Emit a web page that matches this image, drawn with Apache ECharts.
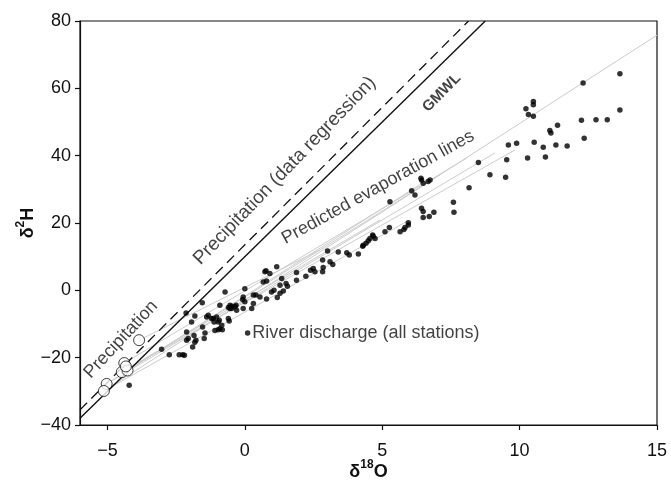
<!DOCTYPE html>
<html>
<head>
<meta charset="utf-8">
<script src="https://cdn.jsdelivr.net/npm/echarts@6/dist/echarts.min.js"></script>
<style>
html,body{margin:0;padding:0;background:#fff;}
#chart{width:671px;height:490px;}
</style>
</head>
<body>
<div id="chart"></div>
<script>
// ---- data ----
const xTicks = [-5, 0, 5, 10, 15];
const yTicks = [-40, -20, 0, 20, 40, 60, 80];

// Global Meteoric Water Line end points (δ18O, δ2H)
const gmwl = [[-6, -38], [8.75, 80]];
// Precipitation data regression line end points
const precipRegression = [[-6, -35.5], [8.14, 80]];

// Precipitation samples (open circles)
const precipitation = [
  [-3.85, -14.8], [-4.39, -21.6], [-4.48, -24.3], [-4.27, -23.8],
  [-4.33, -22.6], [-5.03, -27.8], [-5.13, -29.9]
];

// Predicted evaporation lines: [start, end]
const evaporationLines = [
  [[-5.13, -29.9], [15, 75.8]],
  [[-5.03, -27.8], [9.10, 40.8]],
  [[-4.48, -24.3], [9.83, 41.7]],
  [[-4.39, -21.6], [8.08, 39.3]],
  [[-4.27, -23.8], [7.10, 34.3]],
  [[-5.03, -27.8], [6.37, 31.4]],
  [[-3.85, -14.8], [2.73, 12.0]],
  [[-4.48, -24.3], [4.92, 20.9]],
  [[-5.13, -29.9], [5.90, 20.5]]
];

// River discharge samples (all stations)
const riverDischarge = [
  [-4.21,-28.2],[-3.03,-17.5],[-2.75,-19.1],[-2.39,-19.1],[-2.26,-19.1],[-2.20,-19.3],
  [-2.14,-6.7],[-1.82,-7.6],[-1.94,-9.4],[-2.12,-12.4],[-2.06,-14.3],[-1.85,-13.4],[-2.12,-14.8],
  [-1.90,-16.8],[-1.78,-14.8],[-1.54,-10.9],[-1.45,-12.7],[-1.48,-14.3],[-1.82,-15.4],
  [-1.55,-3.7],[-1.33,-7.4],[-1.21,-8.4],[-1.12,-9.4],[-1.03,-7.9],[-0.93,-8.9],[-0.84,-10.4],
  [-0.97,-11.7],[-0.82,-11.7],[-1.09,-11.9],[-0.60,-8.4],[-0.54,-4.4],[-0.36,-4.9],[-0.30,-5.9],
  [-0.54,-5.4],[-0.57,-9.1],[-0.72,-0.5],[-1.39,-7.9],[-1.15,-8.4],[-0.97,-9.4],[-0.91,-11.4],
  [-0.91,-4.4],[-0.60,-5.1],[-0.48,-5.4],[-0.32,-4.4],[-0.08,-2.7],[-0.06,-5.4],[0.00,0.5],
  [0.25,-5.4],[0.31,-3.9],[0.40,-1.4],[0.73,5.5],[0.67,2.5],[0.79,2.8],[1.16,7.0],[0.91,5.0],
  [0.79,-2.6],[0.97,-0.5],[1.18,-2.1],[1.28,1.5],[1.34,3.5],[1.40,-0.2],[1.50,2.0],[1.55,1.2],
  [1.88,5.3],[1.88,3.0],[2.22,4.2],[2.39,6.0],[2.49,6.5],[2.55,5.5],[2.83,9.0],[2.83,5.5],
  [2.85,6.8],[3.01,11.7],[3.10,8.5],[3.20,7.7],[3.40,11.4],[3.71,11.2],[3.80,10.5],[4.13,10.8],
  [4.29,13.1],[4.41,14.0],[4.49,14.7],[4.65,16.4],[4.74,15.4],[5.10,17.4],[5.26,18.7],[5.65,17.4],
  [5.79,18.1],[5.95,19.4],[1.06,0.0],[1.28,-0.9],[0.77,5.8],[-0.06,-2.0],[0.31,-1.4],[-0.48,-4.7],
  [0.00,-3.4],[0.55,-2.0],[5.28,26.3],[6.07,29.6],[6.19,28.3],[6.43,32.8],[6.49,31.8],[6.67,32.3],
  [6.43,24.4],[6.49,23.4],[5.95,20.1],[5.83,18.7],[4.67,16.1],[4.55,15.4],[4.31,13.4],
  [12.31,61.6],[13.65,64.3],[13.65,53.6],[10.50,56.1],[10.50,55.1],[10.23,53.9],[10.32,52.2],
  [10.50,51.7],[11.38,49.0],[11.10,47.5],[11.14,46.7],[12.25,50.5],[12.78,50.7],[13.19,50.7],
  [10.53,44.0],[10.86,42.5],[11.32,43.2],[11.73,42.9],[12.35,45.2],[10.94,39.6],[10.29,39.3],
  [9.59,43.2],[9.89,43.7],[9.53,38.8],[8.50,38.0],[8.92,34.3],[9.49,33.6],[8.16,30.5],[7.59,26.2],
  [7.61,23.2],[6.88,23.2],[6.71,21.9],[6.49,21.6],[6.74,32.8],[6.41,33.3]
];

// legend-like marker for river discharge label
const riverLabelPoint = [[0.10, -12.7]];

// ---- chart ----
const FONT = '"Liberation Sans", Arial, Helvetica, sans-serif';
const minus = v => (v < 0 ? '\u2212' + Math.abs(v) : String(v));
const chart = echarts.init(document.getElementById('chart'), null, {renderer: 'canvas'});

const evapSeries = evaporationLines.map(seg => ({
  type: 'line', data: seg, symbol: 'none', silent: true, z: 1,
  lineStyle: {color: '#cccccc', width: 1}
}));

function textPoint(text, x, y, rotate, extra) {
  return {
    type: 'scatter', symbolSize: 0, silent: true, z: 10,
    data: [[x, y]],
    label: Object.assign({
      show: true, formatter: text, position: 'inside', rotate: rotate,
      fontFamily: FONT, fontSize: 18, color: '#111'
    }, extra || {})
  };
}

const richName = {
  a: {fontFamily: FONT, fontSize: 18, fontWeight: 'bold', color: '#111', lineHeight: 22, verticalAlign: 'bottom'},
  b: {fontFamily: FONT, fontSize: 12, fontWeight: 'bold', color: '#111', lineHeight: 22, verticalAlign: 'top', padding: [0, 0, 6, 0]}
};

const option = {
  animation: false,
  backgroundColor: '#fff',
  grid: {left: 80, right: 14, top: 21, bottom: 65, outerBoundsMode: 'none', containLabel: false,
         show: true, borderColor: '#111', borderWidth: 1.2, backgroundColor: 'transparent'},
  xAxis: {
    type: 'value', min: -6, max: 15,
    axisLine: {show: true, onZero: false, lineStyle: {color: '#111', width: 1.2}},
    axisTick: {show: true, inside: false, length: 5, customValues: xTicks, lineStyle: {color: '#111', width: 1.2}},
    axisLabel: {customValues: xTicks, formatter: minus, fontFamily: FONT, fontSize: 18, color: '#111', margin: 17},
    splitLine: {show: false},
    name: '{a|δ}{b|18}{a|O}', nameLocation: 'middle', nameGap: 34, nameMoveOverlap: false,
    nameTextStyle: {rich: richName}
  },
  yAxis: {
    type: 'value', min: -40, max: 80, interval: 20,
    axisLine: {show: true, onZero: false, lineStyle: {color: '#111', width: 1.2}},
    axisTick: {show: true, inside: false, length: 5, lineStyle: {color: '#111', width: 1.2}},
    axisLabel: {formatter: minus, fontFamily: FONT, fontSize: 18, color: '#111', margin: 9},
    splitLine: {show: false},
    name: '{a|δ}{b|2}{a|H}', nameLocation: 'middle', nameGap: 43, nameRotate: 90, nameMoveOverlap: false,
    nameTextStyle: {rich: richName}
  },
  series: [
    ...evapSeries,
    {type: 'line', data: precipRegression, symbol: 'none', silent: true, z: 3,
     lineStyle: {color: '#111', width: 1.3, type: [10, 6]}},
    {type: 'line', data: gmwl, symbol: 'none', silent: true, z: 3,
     lineStyle: {color: '#111', width: 1.4}},
    {type: 'scatter', data: riverDischarge, symbol: 'circle', symbolSize: 5.5, z: 4,
     itemStyle: {color: '#000'}},
    {type: 'scatter', data: precipitation, symbol: 'circle', symbolSize: 11, z: 5,
     itemStyle: {color: '#fff', borderColor: '#111', borderWidth: 1}},
    {type: 'scatter', data: riverLabelPoint, symbol: 'circle', symbolSize: 5.5, z: 6,
     itemStyle: {color: '#000'},
     label: {show: true, position: 'right', distance: 2, formatter: 'River discharge (all stations)',
             fontFamily: FONT, fontSize: 18, color: '#111'}},
    textPoint('GMWL', 7.17, 58.7, 45, {fontWeight: 'bold', fontSize: 15}),
    textPoint('Precipitation (data regression)', 1.45, 35.5, 46, {fontSize: 19}),
    textPoint('Precipitation', -4.51, -14.6, 47),
    textPoint('Predicted evaporation lines', 4.85, 30.6, 29)
  ]
};
chart.setOption(option);
</script>
</body>
</html>
